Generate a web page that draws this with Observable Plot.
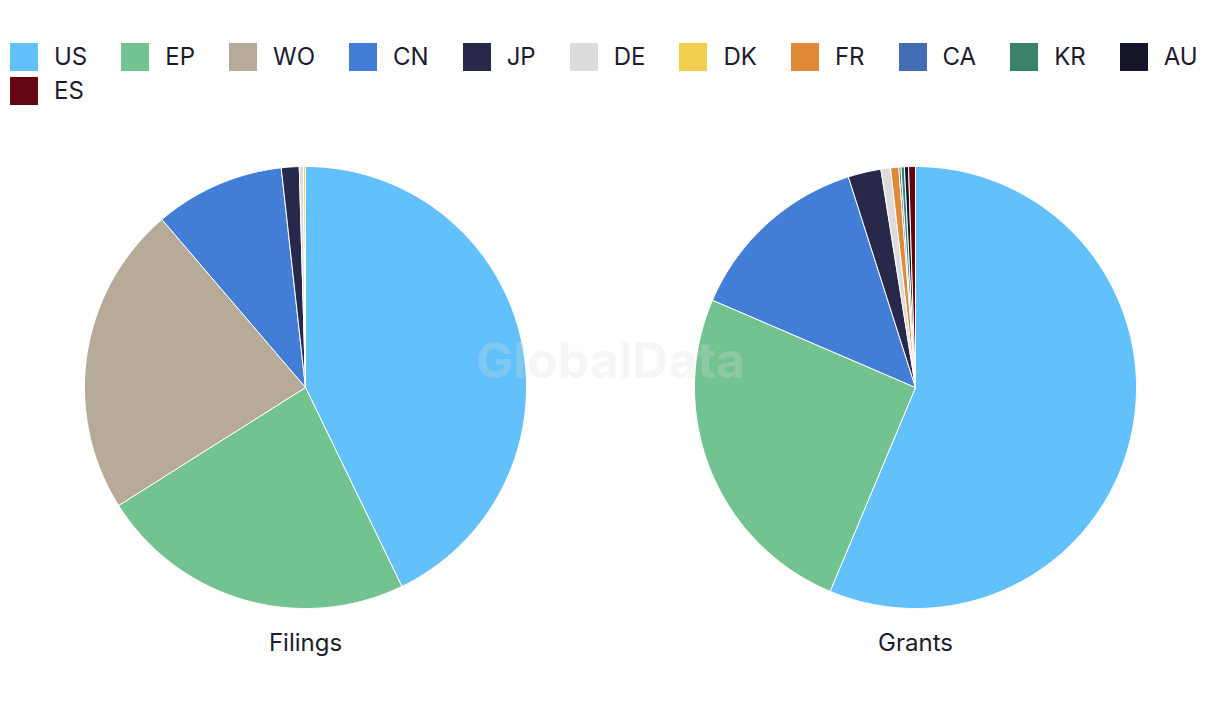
<!DOCTYPE html>
<html>
<head>
<meta charset="utf-8">
<script src="https://cdn.jsdelivr.net/npm/d3@7"></script>
<script src="https://cdn.jsdelivr.net/npm/@observablehq/plot@0.6"></script>
<style>
  html, body { margin: 0; padding: 0; background: #fff; }
  body { width: 1220px; height: 720px; overflow: hidden; font-family: Inter, "Noto Sans", sans-serif; color: #1c1c2e; }
  #legend { display: flex; flex-wrap: wrap; column-gap: 34px; row-gap: 6px; padding: 43px 0 0 10px; width: 1205px; }
  .item { display: flex; align-items: center; height: 28px; line-height: 28px; font-size: 24px; }
  .sw { width: 28px; height: 28px; margin-right: 16px; }
  #chart { position: absolute; top: 120px; left: 0; }
</style>
</head>
<body>
<div id="legend"></div>
<div id="chart"></div>
<script>
const countries = ["US","EP","WO","CN","JP","DE","DK","FR","CA","KR","AU","ES"];
const colors = ["#62c0fa","#73c391","#b8aa98","#427ed6","#27284a","#dcdcdc","#f0cf4f","#e08a38","#456db4","#3a836a","#15152a","#640713"];
const charts = ["Filings","Grants"];
const filings = [42.8, 23.2, 22.7, 9.5, 1.3, 0.3, 0.15, 0, 0, 0, 0, 0];
const grants  = [56.2, 25.1, 0, 13.6, 2.4, 0.7, 0, 0.6, 0.15, 0.25, 0.3, 0.5];
const seriesValues = {Filings: filings, Grants: grants};

// legend
const legend = document.getElementById("legend");
countries.forEach((c, i) => {
  const it = document.createElement("div");
  it.className = "item";
  it.innerHTML = `<span class="sw" style="background:${colors[i]}"></span><span>${c}</span>`;
  legend.appendChild(it);
});

// slice polygons from pie angles
const pie = d3.pie().sort(null).value(d => d.value);
const pts = [];
for (const chart of charts) {
  const rows = countries.map((c, i) => ({chart, key: c, value: seriesValues[chart][i]}));
  for (const a of pie(rows)) {
    if (a.data.value <= 0) continue;
    const poly = [];
    poly.push({x: 0, y: 0});
    const n = Math.max(2, Math.ceil((a.endAngle - a.startAngle) / 0.01));
    for (let k = 0; k <= n; k++) {
      const t = a.startAngle + (a.endAngle - a.startAngle) * k / n;
      poly.push({x: Math.sin(t), y: Math.cos(t)});
    }
    poly.push({x: 0, y: 0});
    for (const p of poly) pts.push({chart, key: a.data.key, x: p.x, y: p.y});
  }
}

const R = 305 / 221;
const plot = Plot.plot({
  width: 1220,
  height: 600,
  marginLeft: 0, marginRight: 0, marginTop: 46, marginBottom: 112,
  fx: {domain: charts, padding: 0},
  x: {domain: [-R, R], axis: null},
  y: {domain: [-1, 1], axis: null},
  color: {domain: countries, range: colors},
  style: {fontFamily: "Inter, 'Noto Sans', sans-serif"},
  marks: [
    Plot.line(pts, {fx: "chart", x: "x", y: "y", z: "key", fill: "key", stroke: "white", strokeWidth: 1, strokeLinejoin: "round", curve: "linear"}),
    Plot.axisFx({anchor: "bottom", tickSize: 0, tickPadding: 25, fontSize: 24, fill: "#1c1c2e", label: null}),
    Plot.text(["GlobalData"], {fx: () => "Filings", frameAnchor: "middle", dx: 305, dy: -26, fontSize: 50, fontWeight: "bold", fill: "#dcdcdc", fillOpacity: 0.25})
  ]
});
document.getElementById("chart").appendChild(plot);
</script>
</body>
</html>
